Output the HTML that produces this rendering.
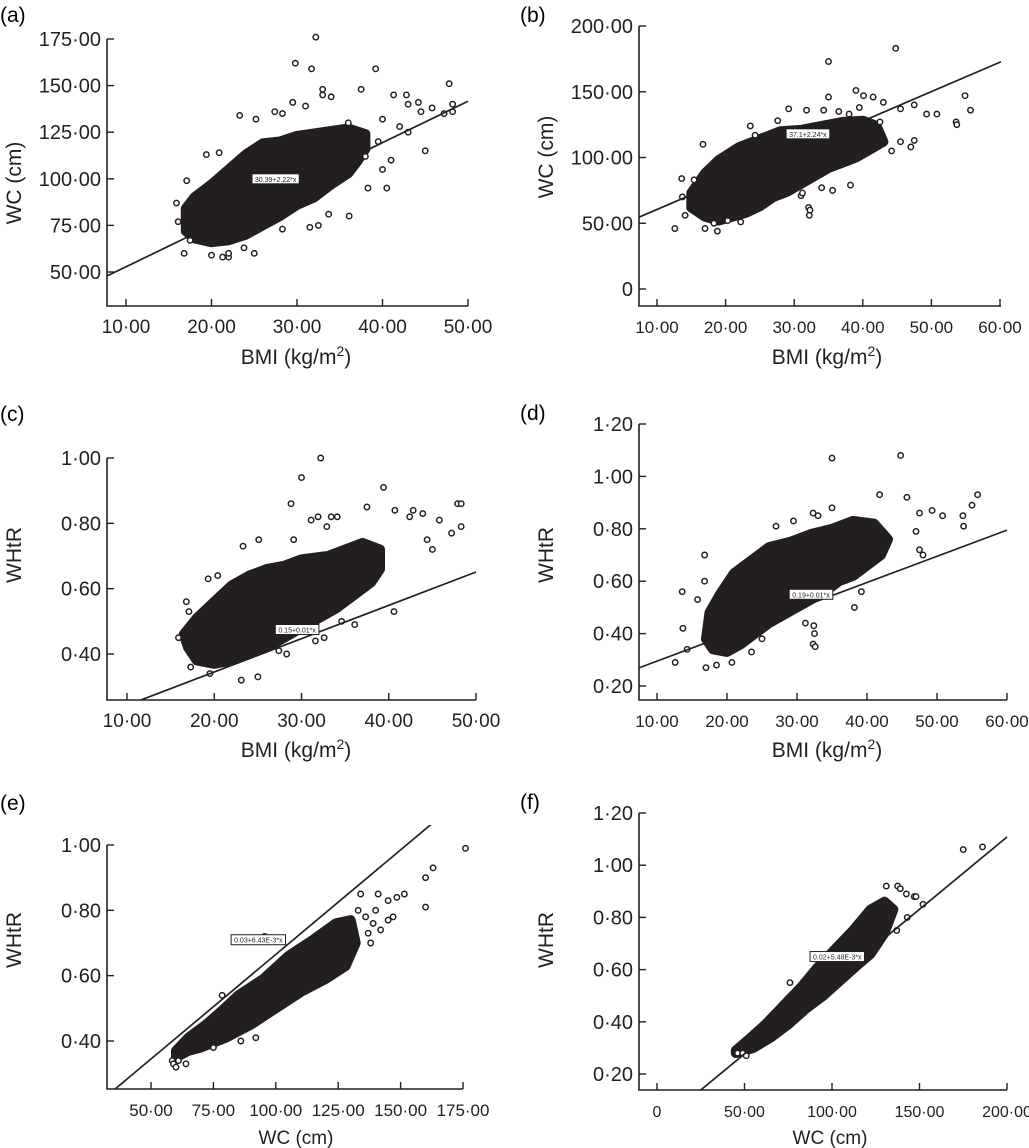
<!DOCTYPE html>
<html><head><meta charset="utf-8"><style>
html,body{margin:0;padding:0;background:#fff;}
svg{display:block;font-family:"Liberation Sans",sans-serif;}
</style></head><body>
<svg id="fig" width="1029" height="1148" viewBox="0 0 1029 1148"></svg>
<script>
// ---------- data (data units) ----------
const aBlob=[[17,72],[18,68],[20,66],[22,67],[24,70],[26,75],[28,80],[30,86],[32,90],[34,97],[36,103],[37,109],[38,116],[38,124],[36,127],[33,125],[30,123],[28,120],[26,119],[24,113],[22,105],[20,97],[18,90],[17,84]];
const aOut=[[32.2,176],[29.8,162],[31.7,159],[39.2,159],[33,148],[33,145],[34,144],[37.5,148],[47.8,151],[48.2,140],[48.2,136],[47.2,135],[45.8,138],[41.3,145],[42.8,145],[43,140],[44.2,141],[44.5,136],[45,115],[40.5,95],[38.3,95],[36.1,80],[33.7,81],[32.5,75],[31.5,74],[28.3,73],[25,60],[16.8,60],[21.3,58],[22,58],[22,60],[23.8,63],[29.5,141],[31,139],[27.4,136],[28.3,135],[25.2,132],[23.3,134],[20.9,114],[19.4,113],[17.1,99],[15.9,87],[16.1,77],[17.5,67],[20,59],[39.5,120],[41,110],[40,105],[38,112],[42,128],[43,125],[40,132],[36,130]];
const bBlob=[[15,62],[17,55],[19,52],[21,55],[23,58],[25,63],[27,70],[29,74],[31,80],[33,86],[35,92],[37,96],[39,100],[41,106],[43,112],[42,124],[40,128],[37,127],[34,124],[31,121],[28,120],[25,114],[22,108],[19,98],[17,88],[15,73]];
const bOut=[[44.8,183],[35,173],[35,146],[39,151],[40.1,147],[41.5,146],[43,142],[45.5,137],[47.5,140],[49.3,133],[50.8,133],[53.6,127],[53.7,125],[54.9,147],[55.7,136],[47,108],[45.5,112],[44.2,105],[47.5,113],[38.2,79],[35.6,75],[34,77],[32.1,62],[32.3,60],[32.2,56],[31,71],[31.2,73],[16.7,110],[13.6,84],[15.4,83],[13.7,70],[14.1,56],[12.6,46],[17,46],[18.8,44],[18.3,50],[20.3,52],[22.2,51],[23.6,124],[27.6,128],[29.2,137],[31.8,136],[34.3,136],[36.5,135],[38,133],[24.3,117],[39.5,138],[42.5,127]];
const cBlob=[[17,0.42],[18,0.38],[20,0.37],[22,0.38],[24,0.40],[26,0.42],[28,0.45],[30,0.48],[32,0.51],[34,0.54],[36,0.58],[38,0.62],[39,0.66],[39,0.72],[37,0.74],[35,0.72],[33,0.70],[30,0.69],[28,0.67],[26,0.66],[24,0.64],[22,0.61],[20,0.56],[18,0.51],[16.5,0.46]];
const cOut=[[32.2,1.00],[30,0.94],[28.8,0.86],[39.4,0.91],[37.5,0.85],[47.9,0.86],[48.3,0.86],[48.3,0.79],[47.2,0.77],[45.8,0.81],[40.7,0.84],[42.8,0.84],[43.9,0.83],[42.4,0.82],[44.4,0.75],[45,0.72],[40.6,0.53],[36.1,0.49],[34.6,0.50],[32.6,0.45],[31.6,0.44],[28.3,0.40],[27.4,0.41],[25,0.33],[23.1,0.32],[19.5,0.34],[17.3,0.36],[16.8,0.56],[17.1,0.53],[19.3,0.63],[20.4,0.64],[23.3,0.73],[25.1,0.75],[29.1,0.75],[31.1,0.81],[31.9,0.82],[33.4,0.82],[34.1,0.82],[32.9,0.79],[15.9,0.45]];
const dBlob=[[17,0.38],[18,0.34],[20,0.33],[22,0.36],[24,0.40],[26,0.44],[28,0.47],[30,0.50],[32,0.53],[34,0.56],[36,0.60],[38,0.62],[40,0.66],[42,0.70],[43,0.76],[41,0.82],[38,0.83],[35,0.80],[32,0.78],[29,0.75],[26,0.73],[23,0.67],[21,0.63],[19,0.55],[17.5,0.48]];
const dOut=[[35,1.07],[44.8,1.08],[41.8,0.93],[45.7,0.92],[55.8,0.93],[55,0.89],[53.7,0.85],[53.8,0.81],[49.3,0.87],[50.8,0.85],[47.5,0.86],[47,0.79],[47.5,0.72],[48,0.70],[38.2,0.50],[39.2,0.56],[32.4,0.43],[32.5,0.40],[32.3,0.36],[32.6,0.35],[31.2,0.44],[17,0.27],[12.6,0.29],[18.5,0.28],[20.7,0.29],[14.3,0.34],[13.7,0.42],[13.6,0.56],[15.8,0.53],[16.8,0.70],[16.8,0.60],[27,0.81],[29.5,0.83],[32.3,0.86],[35,0.88],[33,0.85],[25,0.38],[23.5,0.33]];
const eBlob=[[60,0.35],[65,0.37],[70,0.38],[80,0.41],[90,0.45],[100,0.50],[110,0.55],[120,0.59],[128,0.63],[132,0.70],[130,0.77],[124,0.76],[115,0.71],[105,0.66],[95,0.59],[85,0.54],[78,0.49],[72,0.45],[65,0.41],[60,0.37]];
const eOut=[[176,0.99],[163,0.93],[160,0.90],[160,0.81],[151.5,0.85],[148.5,0.84],[145,0.83],[147,0.78],[145,0.77],[141,0.85],[134,0.85],[140,0.80],[142,0.74],[139,0.76],[138,0.70],[95.5,0.72],[78.5,0.54],[58.5,0.34],[59,0.33],[60,0.32],[61,0.34],[64,0.33],[92,0.41],[86,0.40],[75,0.38],[133,0.80],[136,0.78],[137,0.73]];
const fBlob=[[45,0.28],[55,0.30],[65,0.34],[75,0.39],[85,0.45],[95,0.50],[105,0.56],[115,0.62],[122,0.66],[130,0.74],[135,0.83],[130,0.86],[122,0.83],[112,0.75],[102,0.68],[92,0.61],[82,0.53],[72,0.46],[62,0.39],[52,0.33],[45,0.29]];
const fOut=[[175,1.06],[186,1.07],[131,0.92],[137.5,0.92],[139,0.91],[142.5,0.89],[147,0.88],[148,0.88],[152,0.85],[137,0.75],[143,0.80],[76,0.55],[46,0.28],[49,0.28],[51,0.27]];
// fit lines [intercept, slope]
const aFit=[30.6,2.22], bFit=[38.1,2.24], cFit=[0.141,0.0102], dFit=[0.195,0.01], eFit=[0.025,0.0064], fFit=[0.0,0.00554];
// ticks
const aXT=[10,20,30,40,50], aYT=[50,75,100,125,150,175];
const bXT=[10,20,30,40,50,60], bYT=[0,50,100,150,200];
const cXT=[10,20,30,40,50], cYT=[0.4,0.6,0.8,1.0];
const dXT=[10,20,30,40,50,60], dYT=[0.2,0.4,0.6,0.8,1.0,1.2];
const eXT=[50,75,100,125,150,175], eYT=[0.4,0.6,0.8,1.0];
const fXT=[0,50,100,150,200], fYT=[0.2,0.4,0.6,0.8,1.0,1.2];
const eqLabels=["30.39+2.22*x","37.1+2.24*x","0.15+0.01*x","0.19+0.01*x","0.03+6.43E-3*x","0.02+5.48E-3*x"];
const eqPos=[[27.5,100],[32,118],[29.5,0.475],[32,0.55],[93,0.71],[103,0.65]];

// ---------- layout ----------
const panels=[
 {id:'a',blob:aBlob,out:aOut,fit:aFit,xt:aXT,yt:aYT,xd:[10,50],xp:[126,468],yd:[50,175],yp:[272,39],L:107,B:306,R:468,T:39,xTitle:'BMI',yTitle:'WC (cm)',ytx:14,yty:183,xtx:296,xty:364,lab:[0,22],fs:19},
 {id:'b',blob:bBlob,out:bOut,fit:bFit,xt:bXT,yt:bYT,xd:[10,60],xp:[657,1000],yd:[0,200],yp:[289,26],L:639,B:306,R:1001,T:26,xTitle:'BMI',yTitle:'WC (cm)',ytx:546,yty:157,xtx:827,xty:364,lab:[520,22],fs:17},
 {id:'c',blob:cBlob,out:cOut,fit:cFit,xt:cXT,yt:cYT,xd:[10,50],xp:[127,476],yd:[0.4,1.0],yp:[654,458],L:107,B:700,R:476,T:458,xTitle:'BMI',yTitle:'WHtR',ytx:14,yty:555,xtx:296,xty:757,lab:[0,421],fs:19},
 {id:'d',blob:dBlob,out:dOut,fit:dFit,xt:dXT,yt:dYT,xd:[10,60],xp:[657,1007],yd:[0.2,1.2],yp:[686,424],L:639,B:700,R:1007,T:424,xTitle:'BMI',yTitle:'WHtR',ytx:546,yty:555,xtx:827,xty:757,lab:[520,420],fs:17},
 {id:'e',blob:eBlob,out:eOut,fit:eFit,xt:eXT,yt:eYT,xd:[50,175],xp:[151,463],yd:[0.4,1.0],yp:[1041,845],L:107,B:1089,R:463,T:845,xTitle:'WC (cm)',yTitle:'WHtR',ytx:14,yty:940,xtx:296,xty:1144,lab:[0,810],fs:17},
 {id:'f',blob:fBlob,out:fOut,fit:fFit,xt:fXT,yt:fYT,xd:[0,200],xp:[657,1007],yd:[0.2,1.2],yp:[1074,813],L:639,B:1090,R:1007,T:813,xTitle:'WC (cm)',yTitle:'WHtR',ytx:546,yty:940,xtx:830,xty:1144,lab:[520,809],fs:16}
];
const NS='http://www.w3.org/2000/svg';
const svg=document.getElementById('fig');
function mk(tag,attrs,parent){const e=document.createElementNS(NS,tag);for(const k in attrs)e.setAttribute(k,attrs[k]);(parent||svg).appendChild(e);return e;}
function fmt(v){ if(v===0) return '0'; return v.toFixed(2).replace('.','·'); }

panels.forEach((p,i)=>{
 const sx=v=>p.xp[0]+(v-p.xd[0])*(p.xp[1]-p.xp[0])/(p.xd[1]-p.xd[0]);
 const sy=v=>p.yp[0]+(v-p.yd[0])*(p.yp[1]-p.yp[0])/(p.yd[1]-p.yd[0]);
 const ix=x=>p.xd[0]+(x-p.xp[0])*(p.xd[1]-p.xd[0])/(p.xp[1]-p.xp[0]);
 const g=mk('g',{});
 
 
 const clipId='clip'+p.id;
 const cp=mk('clipPath',{id:clipId},g); mk('rect',{x:p.L,y:p.T-20,width:p.R-p.L+2,height:p.B-p.T+20},cp);
 const pl=mk('text',{x:p.lab[0],y:p.lab[1],'font-size':21},g); pl.textContent='('+p.id+')';
 
 
 const pts=p.blob.map(d=>sx(d[0]).toFixed(1)+','+sy(d[1]).toFixed(1)).join(' ');
 const bl=mk('polygon',{points:pts,fill:'#231f20',stroke:'#231f20','stroke-width':10,'stroke-linejoin':'round'},g);
 
 
 p.out.forEach(d=>{
   const c=mk('circle',{cx:sx(d[0]),cy:sy(d[1]),r:2.7,fill:'#fff',stroke:'#231f20','stroke-width':1.5},g);
   
   
 });
 const x0=ix(p.L), x1=ix(p.R);
 const ln=mk('line',{x1:sx(x0),y1:sy(p.fit[0]+p.fit[1]*x0),x2:sx(x1),y2:sy(p.fit[0]+p.fit[1]*x1),stroke:'#231f20','stroke-width':1.7,'clip-path':'url(#'+clipId+')'},g);
 
 
 const ex=sx(eqPos[i][0]), ey=sy(eqPos[i][1]);
 const lg=mk('g',{},g);
 
 
 const w=eqLabels[i].length*3.6+4;
 mk('rect',{x:ex-w/2,y:ey-5,width:w,height:10,fill:'#fff',stroke:'#231f20','stroke-width':1},lg);
 const et=mk('text',{x:ex,y:ey+3,'font-size':7,'text-anchor':'middle',fill:'#231f20'},lg); et.textContent=eqLabels[i];
 const ax=mk('path',{d:`M${p.L},${p.T} V${p.B} H${p.R}`,fill:'none',stroke:'#231f20','stroke-width':1.6},g);
 
 
 p.xt.forEach(v=>{
   const x=sx(v);
   mk('line',{x1:x,y1:p.B,x2:x,y2:p.B-7,stroke:'#231f20','stroke-width':1.4},g);
   const t=mk('text',{x:x,y:p.B+27,'font-size':p.fs,'text-anchor':'middle',fill:'#231f20'},g); t.textContent=fmt(v);
   
   
 });
 p.yt.forEach(v=>{
   const y=sy(v);
   mk('line',{x1:p.L,y1:y,x2:p.L+7,y2:y,stroke:'#231f20','stroke-width':1.4},g);
   const t=mk('text',{x:p.L-6,y:y+7,'font-size':20,'text-anchor':'end',fill:'#231f20'},g); t.textContent=fmt(v);
   
   
 });
 const yt=mk('text',{x:p.ytx,y:p.yty,'font-size':21,'text-anchor':'middle',transform:`rotate(-90 ${p.ytx} ${p.yty})`,dy:7,fill:'#231f20'},g);
 yt.textContent=p.yTitle;
 
 
 const xt=mk('text',{x:p.xtx,y:p.xty,'font-size':21,'text-anchor':'middle',fill:'#231f20'},g);
 
 
 if(p.xTitle==='BMI'){
   xt.textContent='BMI (kg/m';
   const sup=mk('tspan',{dy:-8,'font-size':14},xt); sup.textContent='2';
   const cl=mk('tspan',{dy:8},xt); cl.textContent=')';
 } else { xt.setAttribute('font-size',19); xt.textContent=p.xTitle; }
});
</script>
</body></html>
